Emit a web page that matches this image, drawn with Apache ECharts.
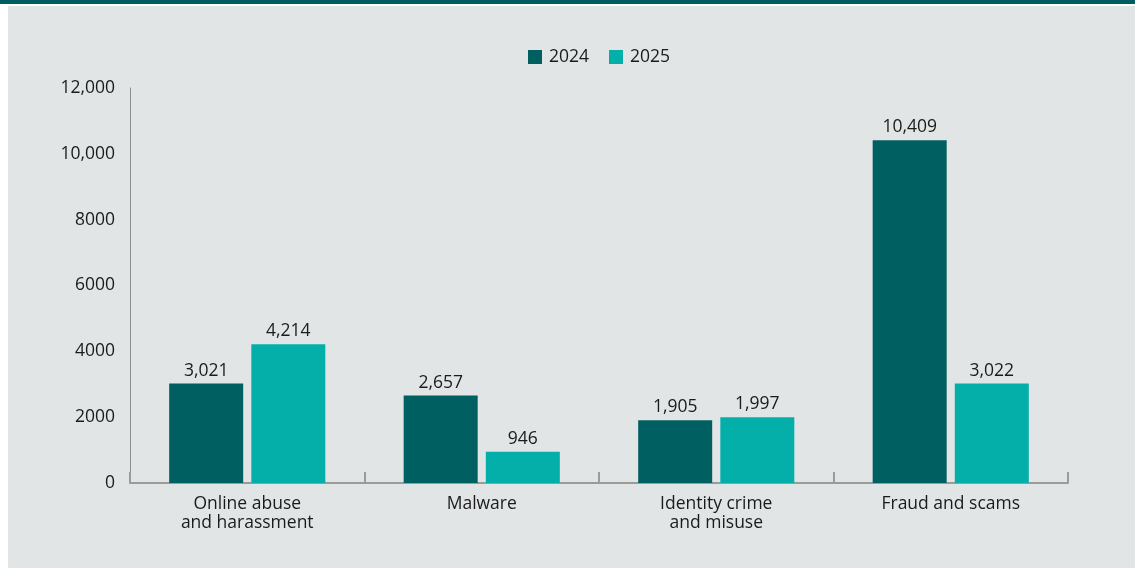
<!DOCTYPE html>
<html>
<head>
<meta charset="utf-8">
<script src="https://cdn.jsdelivr.net/npm/echarts@6/dist/echarts.min.js"></script>
<style>
  html, body { margin: 0; padding: 0; background: #ffffff; }
  #chart { width: 1135px; height: 568px; }
</style>
</head>
<body>
<div id="chart"></div>
<script>
// Reported cybercrime by category, financial years 2024 and 2025
const categories = ['Online abuse\nand harassment', 'Malware', 'Identity crime\nand misuse', 'Fraud and scams'];
const values2024 = [3021, 2657, 1905, 10409];
const values2025 = [4214, 946, 1997, 3022];
const yTickLabels = { 0: '0', 2000: '2000', 4000: '4000', 6000: '6000', 8000: '8000', 10000: '10,000', 12000: '12,000' };

const fontFamily = '"Open Sans", "Noto Sans", sans-serif';
const fontSize = 17.5;
const textColor = '#1b1b1b';

const chart = echarts.init(document.getElementById('chart'), null, { renderer: 'canvas' });

const labelStyle = {
  show: true,
  position: 'top',
  distance: 4,
  color: textColor,
  fontFamily: fontFamily,
  fontSize: fontSize,
  formatter: p => p.value.toLocaleString('en-US')
};

chart.setOption({
  animation: false,
  graphic: [
    { type: 'rect', z: -10, shape: { x: 0, y: 0, width: 1135, height: 4 }, style: { fill: '#005c5e' } },
    { type: 'rect', z: -10, shape: { x: 8, y: 6, width: 1127, height: 562 }, style: { fill: '#e1e5e6' } }
  ],
  legend: {
    top: 43,
    left: 523,
    itemWidth: 14,
    itemHeight: 14,
    itemGap: 20,
    icon: 'rect',
    textStyle: { color: textColor, fontFamily: fontFamily, fontSize: fontSize, padding: [0, 0, 0, 2] },
    data: ['2024', '2025']
  },
  grid: { left: 130, right: 67, top: 88, bottom: 85, containLabel: false },
  xAxis: {
    type: 'category',
    data: categories,
    axisLine: { show: true, lineStyle: { color: '#9b9b9b', width: 2 } },
    axisTick: { show: true, inside: true, length: 11, alignWithLabel: false, lineStyle: { color: '#9b9b9b', width: 2 } },
    axisLabel: {
      color: textColor,
      fontFamily: fontFamily,
      fontSize: fontSize,
      lineHeight: 19,
      margin: 12,
      interval: 0
    }
  },
  yAxis: {
    type: 'value',
    min: 0,
    max: 12000,
    interval: 2000,
    splitLine: { show: false },
    axisLine: { show: true, lineStyle: { color: '#8e8e8e', width: 1 } },
    axisTick: { show: false },
    axisLabel: {
      color: textColor,
      fontFamily: fontFamily,
      fontSize: fontSize,
      margin: 15,
      formatter: v => yTickLabels[v] ?? String(v)
    }
  },
  series: [
    {
      name: '2024',
      type: 'bar',
      data: values2024,
      barWidth: 74,
      barGap: '11%',
      itemStyle: { color: '#005f61' },
      label: labelStyle
    },
    {
      name: '2025',
      type: 'bar',
      data: values2025,
      barWidth: 74,
      itemStyle: { color: '#05afa9' },
      label: labelStyle
    }
  ]
});
</script>
</body>
</html>
